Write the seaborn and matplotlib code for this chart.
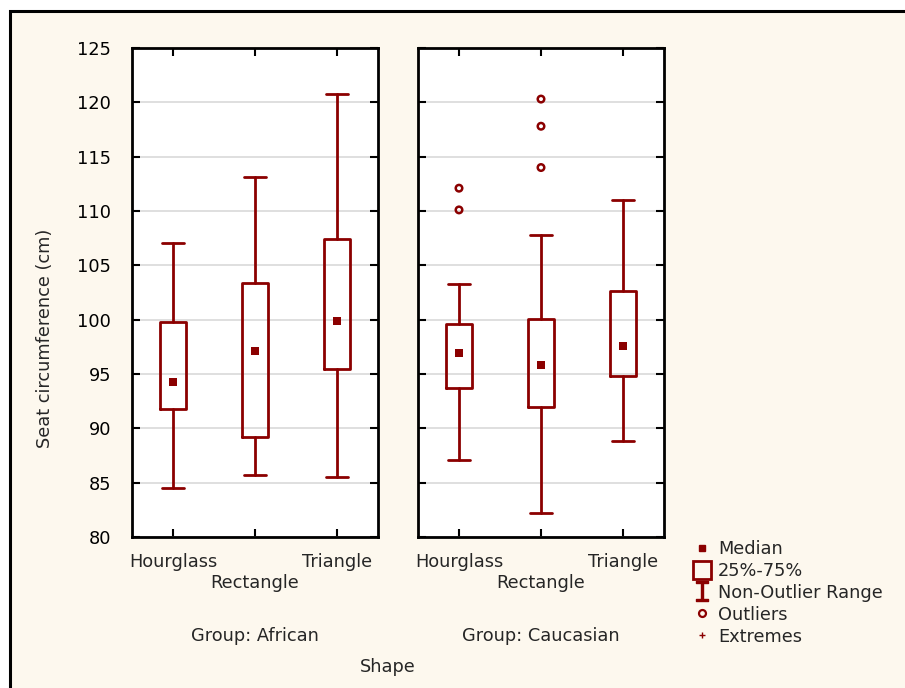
import numpy as np
import matplotlib
matplotlib.use("Agg")
import matplotlib.pyplot as plt
import seaborn as sns
from matplotlib.patches import Rectangle
from matplotlib.lines import Line2D

# Data

shapes = ["Hourglass", "Rectangle", "Triangle"]
groups = ["African", "Caucasian"]

african_low = [84.5, 85.7, 85.5]
african_q1 = [91.8, 89.2, 95.5]
african_med = [94.3, 97.1, 99.9]
african_q3 = [99.8, 103.4, 107.4]
african_high = [107.1, 113.1, 120.8]
african_out = [[], [], []]

caucasian_low = [87.1, 82.2, 88.8]
caucasian_q1 = [93.7, 92.0, 94.8]
caucasian_med = [96.9, 95.8, 97.6]
caucasian_q3 = [99.6, 100.1, 102.6]
caucasian_high = [103.3, 107.8, 111.0]
caucasian_out = [[110.1, 112.1], [114.0, 117.8, 120.3], []]

y_ticks = [80, 85, 90, 95, 100, 105, 110, 115, 120, 125]

# Style

sns.set_style("white")
plt.rcParams["font.family"] = ["DejaVu Sans"]
red = "#8b0000"
bg = "#fdf8ee"
fs = 12.8

fig = plt.figure(figsize=(9.05, 6.88), dpi=100)
fig.patch.set_facecolor("white")
fig.patches.append(Rectangle((10 / 905, -0.01), 1.0, 1 - 11 / 688 + 0.01, transform=fig.transFigure,
                             facecolor=bg, edgecolor="black", linewidth=2.2, zorder=-10))

panels = [
    (african_low, african_q1, african_med, african_q3, african_high, african_out),
    (caucasian_low, caucasian_q1, caucasian_med, caucasian_q3, caucasian_high, caucasian_out),
]
lefts = [132 / 905, 418 / 905]
width = 246 / 905
bottom = 1 - 537 / 688
height = (537 - 48) / 688

for i, (lo, q1, med, q3, hi, out) in enumerate(panels):
    ax = fig.add_axes([lefts[i], bottom, width, height])
    ax.set_facecolor("white")
    stats = []
    for j in range(3):
        stats.append(dict(whislo=lo[j], q1=q1[j], med=med[j], q3=q3[j], whishi=hi[j],
                          fliers=out[j], label=shapes[j]))
    ax.bxp(stats, positions=[0, 1, 2], widths=0.32, showfliers=False, showcaps=True,
           capwidths=0.28,
           boxprops=dict(color=red, linewidth=2),
           whiskerprops=dict(color=red, linewidth=2),
           capprops=dict(color=red, linewidth=2),
           medianprops=dict(linewidth=0))
    sns.scatterplot(x=[0, 1, 2], y=med, marker="s", s=30, color=red, edgecolor=red,
                    linewidth=0, ax=ax, zorder=5)
    fx = [j for j in range(3) for v in out[j]]
    fy = [v for j in range(3) for v in out[j]]
    if fx:
        sns.scatterplot(x=fx, y=fy, marker="o", s=22, facecolor="none", edgecolor=red,
                        linewidth=1.8, ax=ax, zorder=5)
    ax.set_xlim(-0.5, 2.5)
    ax.set_ylim(80, 125)
    ax.set_yticks(y_ticks)
    ax.yaxis.grid(True, color="#d9d9d9", linewidth=1.2)
    ax.set_axisbelow(True)
    ax.tick_params(axis="both", direction="in", length=6, width=1.5, top=True, right=True,
                   left=True, bottom=True, colors="black", labelsize=fs, pad=15)
    ax.set_xticks([0, 1, 2])
    ax.set_xticklabels([])
    ax.set_xlabel("")
    ax.set_ylabel("")
    if i == 0:
        ax.set_yticklabels([str(t) for t in y_ticks])
    else:
        ax.set_yticklabels([])
    for s in ax.spines.values():
        s.set_color("black")
        s.set_linewidth(2)
        s.set_visible(True)
    # staggered category labels
    for j, name in enumerate(shapes):
        yv = 75.75 if j == 1 else 77.7
        ax.text(j, yv, name, ha="center", va="center", fontsize=fs, clip_on=False)
    ax.text(1, 70.9, "Group: " + groups[i], ha="center", va="center", fontsize=fs, clip_on=False)

fig.text(45 / 905, 1 - 338 / 688, "Seat circumference (cm)", rotation=90, ha="center",
         va="center", fontsize=fs)
fig.text(388 / 905, 1 - 667 / 688, "Shape", ha="center", va="center", fontsize=fs)

# Legend
handles = [
    Line2D([], [], marker="s", linestyle="none", color=red, markersize=5),
    Line2D([], [], marker="s", linestyle="none", markerfacecolor="none", markeredgecolor=red,
           markersize=13, markeredgewidth=2),
    Line2D([], [], marker="$\\mathtt{I}$", linestyle="none", color=red, markersize=15),
    Line2D([], [], marker="o", linestyle="none", markerfacecolor="none", markeredgecolor=red,
           markersize=5, markeredgewidth=1.6),
    Line2D([], [], marker="+", linestyle="none", color=red, markersize=5),
]
labels = ["Median", "25%-75%", "Non-Outlier Range", "Outliers", "Extremes"]
fig.legend(handles, labels, loc="upper left", bbox_to_anchor=(685 / 905, 1 - 531 / 688),
           frameon=False, fontsize=fs, handlelength=0.9, handletextpad=0.45,
           labelspacing=0.22, borderpad=0)

fig.savefig("out.png", dpi=100, facecolor="white")
